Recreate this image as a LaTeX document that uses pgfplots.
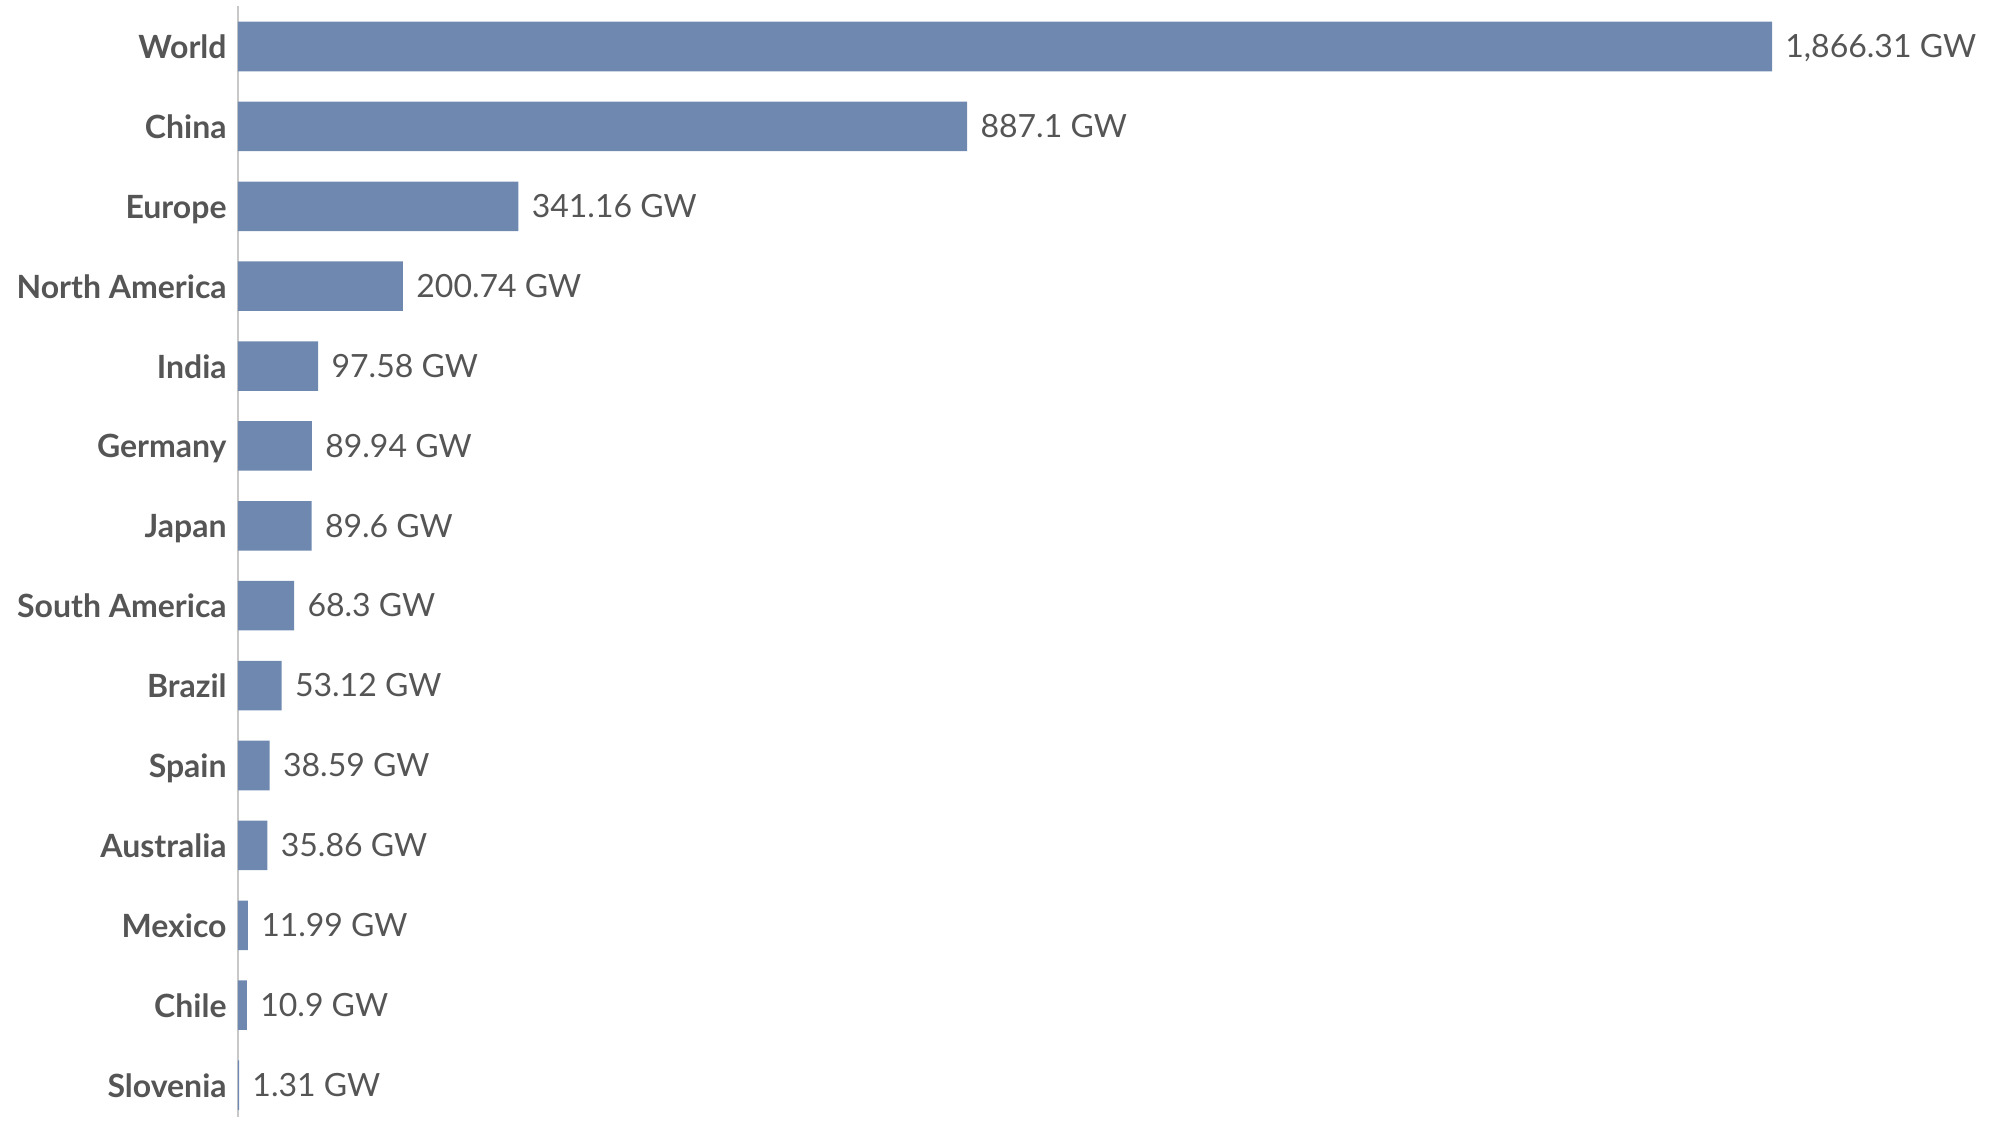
\documentclass[border=0pt]{standalone}
\usepackage{fontspec}
\setmainfont{Lato}
\usepackage{pgfplots}
\usepackage{pgfplotstable}
\pgfplotsset{compat=1.18}
\definecolor{barc}{HTML}{6E88B0}
\definecolor{txt}{HTML}{555555}
\definecolor{axc}{HTML}{C8C8C8}
\pgfplotstableread{
y x label
0 1866.31 {1,866.31}
1 887.1 887.1
2 341.16 341.16
3 200.74 200.74
4 97.58 97.58
5 89.94 89.94
6 89.6 89.6
7 68.3 68.3
8 53.12 53.12
9 38.59 38.59
10 35.86 35.86
11 11.99 11.99
12 10.9 10.9
13 1.31 1.31
}\datatable
\begin{document}
\begin{tikzpicture}
\useasboundingbox (-119pt,-1.5pt) rectangle (879.5pt,558.5pt);
\begin{axis}[
  scale only axis,
  width=767pt, height=555.5pt,
  xmin=0, xmax=1866.31,
  ymin=-0.507, ymax=13.4,
  y dir=reverse,
  xbar, bar width=0.62,
  axis x line=none,
  axis y line=left,
  axis line style={-, draw=axc, line width=1pt},
  ytick=data,
  yticklabels={World,China,Europe,North America,India,Germany,Japan,South America,Brazil,Spain,Australia,Mexico,Chile,Slovenia},
  major tick length=0pt,
  y tick label style={font=\bfseries\fontsize{16}{18}\selectfont, text=txt, inner sep=0pt, xshift=-5.5pt, anchor=east, text height=11.5pt, text depth=3.5pt, yshift=-2pt},
  clip=false,
  point meta=explicit symbolic,
  nodes near coords={\pgfplotspointmeta\ GW},
  every node near coord/.append style={anchor=west, inner sep=0pt, xshift=6.5pt, yshift=-1.6pt, text=txt, font=\fontsize{16}{18}\selectfont, text height=11.5pt, text depth=3.5pt},
]
\addplot[fill=barc, draw=none] table[x=x, y=y, meta=label] {\datatable};
\end{axis}
\end{tikzpicture}
\end{document}
